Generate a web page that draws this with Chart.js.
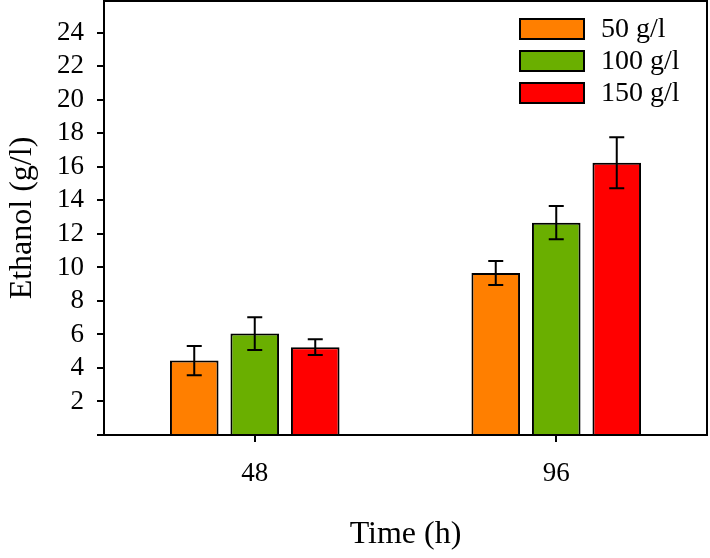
<!DOCTYPE html>
<html>
<head>
<meta charset="utf-8">
<script src="https://cdn.jsdelivr.net/npm/chart.js@4"></script>
<style>
  body { margin: 0; background: #fff; }
  #chart { display: block; }
</style>
</head>
<body>
<canvas id="chart" width="710" height="558"></canvas>
<script>
// Values
const times = ['48', '96'];
const labels = ['50 g/l', '100 g/l', '150 g/l'];
const ethanol50 = [4.44, 9.67];
const ethanol100 = [6.05, 12.67];
const ethanol150 = [5.24, 16.25];
const err50 = [0.87, 0.72];
const err100 = [0.98, 0.99];
const err150 = [0.47, 1.52];
const yTicks = [2, 4, 6, 8, 10, 12, 14, 16, 18, 20, 22, 24];

const colors = ['#ff7f00', '#6aaf00', '#ff0000'];
const serif = 'Liberation Serif';

// Draw error bars from the bar positions
const errorBars = {
    id: 'errorBars',
    afterDatasetsDraw(chart) {
        const ctx = chart.ctx;
        const y = chart.scales.y;
        ctx.save();
        ctx.strokeStyle = '#000';
        ctx.lineWidth = 2;
        chart.data.datasets.forEach((ds, i) => {
            chart.getDatasetMeta(i).data.forEach((bar, j) => {
                const v = ds.data[j], e = ds.errors[j];
                const top = y.getPixelForValue(v + e);
                const bot = y.getPixelForValue(v - e);
                ctx.beginPath();
                ctx.moveTo(bar.x, top); ctx.lineTo(bar.x, bot);
                ctx.moveTo(bar.x - 7.5, top); ctx.lineTo(bar.x + 7.5, top);
                ctx.moveTo(bar.x - 7.5, bot); ctx.lineTo(bar.x + 7.5, bot);
                ctx.stroke();
            });
        });
        ctx.restore();
    }
};

// Top and right frame lines plus the legend in the corner
const frameAndLegend = {
    id: 'frameAndLegend',
    afterDraw(chart) {
        const ctx = chart.ctx;
        const a = chart.chartArea;
        ctx.save();
        ctx.strokeStyle = '#000';
        ctx.lineWidth = 2;
        ctx.beginPath();
        ctx.moveTo(a.left, a.top); ctx.lineTo(a.right, a.top); ctx.lineTo(a.right, a.bottom);
        ctx.stroke();

        ctx.font = '28px "' + serif + '"';
        ctx.textBaseline = 'middle';
        chart.data.datasets.forEach((ds, i) => {
            const bx = a.right - 187, by = a.top + 18 + i * 32;
            ctx.fillStyle = ds.backgroundColor;
            ctx.fillRect(bx, by, 64, 20);
            ctx.strokeRect(bx, by, 64, 20);
            ctx.fillStyle = '#000';
            ctx.fillText(ds.label, bx + 81, by + 11);
        });
        ctx.restore();
    }
};

const datasets = [ethanol50, ethanol100, ethanol150].map((d, i) => ({
    label: labels[i],
    data: d,
    errors: [err50, err100, err150][i],
    backgroundColor: colors[i],
    borderColor: '#000',
    borderWidth: 2,
    barPercentage: 0.803,
    categoryPercentage: 0.602
}));

new Chart(document.getElementById('chart'), {
    type: 'bar',
    data: { labels: times, datasets: datasets },
    options: {
        responsive: false,
        animation: false,
        layout: { padding: { top: 1, right: 3, left: 0, bottom: 0 } },
        plugins: {
            legend: { display: false },
            tooltip: { enabled: false }
        },
        scales: {
            x: {
                grid: { display: true, offset: false, drawOnChartArea: false, drawTicks: true, tickLength: 7, color: '#000', lineWidth: 2 },
                border: { display: true, color: '#000', width: 2 },
                ticks: { color: '#000', font: { family: serif, size: 27 }, padding: 16 },
                title: { display: true, text: 'Time (h)', color: '#000', font: { family: serif, size: 32 }, padding: { top: 0, bottom: 4 } },
                afterFit(scale) {
                    scale.height = 123;
                    scale.paddingLeft = 0;
                    scale.paddingRight = 0;
                }
            },
            y: {
                min: 0,
                max: 25.9,
                afterBuildTicks(scale) {
                    scale.ticks = [0].concat(yTicks).map(v => ({ value: v }));
                },
                grid: { display: true, drawOnChartArea: false, drawTicks: true, tickLength: 7, color: '#000', lineWidth: 2 },
                border: { display: true, color: '#000', width: 2 },
                ticks: {
                    color: '#000',
                    autoSkip: false,
                    font: { family: serif, size: 27 },
                    padding: 13,
                    callback: v => (v === 0 ? '' : v)
                },
                title: { display: true, text: 'Ethanol (g/l)', color: '#000', font: { family: serif, size: 32 }, padding: { top: 3, bottom: 0 } },
                afterFit(scale) {
                    scale.width = 104;
                    scale.paddingTop = 0;
                    scale.paddingBottom = 0;
                }
            }
        }
    },
    plugins: [errorBars, frameAndLegend]
});
</script>
</body>
</html>
